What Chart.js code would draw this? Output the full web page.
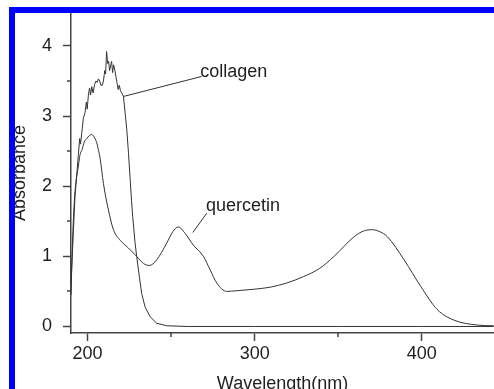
<!DOCTYPE html>
<html>
<head>
<meta charset="utf-8">
<title>Absorbance spectra</title>
<script src="https://cdn.jsdelivr.net/npm/chart.js@4.4.1/dist/chart.umd.min.js"></script>
<style>
  html, body { margin: 0; padding: 0; background: #fff; }
  #wrap { position: relative; width: 494px; height: 389px; overflow: hidden; }
  #wrap canvas { position: absolute; left: 0; top: 0; }
  /* blue frame of the original figure (only top and left edges are in view) */
  #frame {
    position: absolute; left: 9px; top: 7px; right: -20px; bottom: -20px;
    border-top: 6px solid #0000ff; border-left: 6px solid #0000ff;
    pointer-events: none;
  }
</style>
</head>
<body>
<div id="wrap">
  <canvas id="spectraChart" width="494" height="389"></canvas>
  <div id="frame"></div>
</div>
<script>
/* ---------------- Data ---------------- */
const collagenWavelength = [
  190, 190.5, 191.5, 192.5, 193.5, 194.5, 195.3, 195.8, 196.5, 197.5,
  198.5, 199.3, 199.8, 200.5, 201.2, 201.8, 202.5, 203.3, 204.2, 205,
  205.8, 206.5, 207.3, 208, 208.8, 209.5, 210.3, 210.8, 211.4, 212,
  212.6, 213.2, 213.8, 214.4, 215, 215.6, 216.3, 217, 217.6, 218.3,
  219, 219.7, 220.5, 221.5, 222.5, 223.5, 224.5, 225.5, 226.3, 227,
  228.4, 229.4, 231, 232.4, 234.4, 237.4, 241.4, 247.4, 260, 300,
  350, 400, 443
];
const collagenAbs = [
  0.45, 0.8, 1.35, 1.85, 2.15, 2.45, 2.68, 2.6, 2.75, 2.97,
  3.05, 3.2, 3.1, 3.3, 3.4, 3.3, 3.42, 3.33, 3.45, 3.5,
  3.48, 3.53, 3.5, 3.44, 3.44, 3.5, 3.65, 3.6, 3.92, 3.75,
  3.78, 3.65, 3.72, 3.78, 3.62, 3.73, 3.66, 3.56, 3.48, 3.38,
  3.44, 3.36, 3.33, 3.28, 3.04, 2.8, 2.47, 2.1, 1.8, 1.57,
  1.2, 1.0, 0.71, 0.47, 0.28, 0.14, 0.045, 0.01, 0.0, 0.0,
  0.0, 0.0, 0.0
];

const quercetinWavelength = [
  190, 191, 192, 193, 194.3, 195.5, 196.7, 198, 199.5, 201,
  202.3, 203.5, 204.5, 205.5, 206.5, 207.5, 209.5, 212.5, 215.5, 219.5,
  224.4, 229.4, 233.4, 237, 241.4, 247.4, 251, 254.3, 258.3, 263.3,
  269.3, 273.3, 277.3, 283.3, 289.3, 299.2, 309.2, 319.2, 329.1, 339,
  347.5, 359.5, 365, 370.4, 375, 379.4, 389.4, 399.4, 409.3, 419.3,
  433.3, 443
];
const quercetinAbs = [
  0.45, 1.2, 1.75, 2.05, 2.25, 2.45, 2.52, 2.63, 2.68, 2.72,
  2.74, 2.72, 2.68, 2.62, 2.52, 2.4, 2.04, 1.66, 1.38, 1.23,
  1.12, 1.0, 0.9, 0.87, 0.95, 1.19, 1.35, 1.42, 1.33, 1.16,
  1.0, 0.81, 0.62, 0.5, 0.51, 0.53, 0.56, 0.62, 0.71, 0.83,
  1.0, 1.28, 1.36, 1.38, 1.35, 1.28, 0.95, 0.57, 0.24, 0.09,
  0.02, 0.01
];

const xTickValues = [200, 250, 300, 350, 400];
const xTickLabels = ["200", "", "300", "", "400"];
const yTickValues = [0, 0.5, 1, 1.5, 2, 2.5, 3, 3.5, 4];
const yTickLabels = ["0", "", "1", "", "2", "", "3", "", "4"];

/* curve labels with their leader lines, in data units */
const curveLabels = [
  { text: "collagen",  from: [221.5, 3.28], to: [268.3, 3.565], at: [267.4, 3.555] },
  { text: "quercetin", from: [263, 1.34],   to: [271.3, 1.615], at: [270.9, 1.64] }
];

/* ---------------- Styling ---------------- */
const FONT = '"Liberation Sans", Arial, sans-serif';
const axisColor = "#444";
const textColor = "#1e1e1e";
const lineColor = "#333";

function toPoints(xs, ys) {
  return xs.map((x, i) => ({ x: x, y: ys[i] }));
}

/* minor ticks (shorter), leader lines and curve labels */
const extrasPlugin = {
  id: "extras",
  afterDraw(chart) {
    const { ctx, chartArea, scales: { x, y } } = chart;
    ctx.save();
    ctx.strokeStyle = axisColor;
    ctx.lineWidth = 1.5;
    ctx.beginPath();
    xTickValues.forEach((v, i) => {
      if (xTickLabels[i]) return;
      const px = Math.round(x.getPixelForValue(v));
      ctx.moveTo(px, chartArea.bottom);
      ctx.lineTo(px, chartArea.bottom + 4);
    });
    yTickValues.forEach((v, i) => {
      if (yTickLabels[i]) return;
      const py = Math.round(y.getPixelForValue(v));
      ctx.moveTo(chartArea.left, py);
      ctx.lineTo(chartArea.left - 4, py);
    });
    ctx.stroke();

    ctx.strokeStyle = lineColor;
    ctx.lineWidth = 1;
    ctx.fillStyle = textColor;
    ctx.font = "18px " + FONT;
    ctx.textBaseline = "alphabetic";
    ctx.textAlign = "left";
    curveLabels.forEach((lab) => {
      ctx.beginPath();
      ctx.moveTo(x.getPixelForValue(lab.from[0]), y.getPixelForValue(lab.from[1]));
      ctx.lineTo(x.getPixelForValue(lab.to[0]), y.getPixelForValue(lab.to[1]));
      ctx.stroke();
      ctx.fillText(lab.text, x.getPixelForValue(lab.at[0]), y.getPixelForValue(lab.at[1]));
    });
    ctx.restore();
  }
};

function renderSpectra() {
  const ctx = document.getElementById("spectraChart");
  if (!ctx || typeof Chart === "undefined") return;

  new Chart(ctx, {
    type: "line",
    data: {
      datasets: [
        {
          label: "collagen",
          data: toPoints(collagenWavelength, collagenAbs),
          borderColor: lineColor,
          borderWidth: 1,
          pointRadius: 0,
          tension: 0,
          fill: false
        },
        {
          label: "quercetin",
          data: toPoints(quercetinWavelength, quercetinAbs),
          borderColor: lineColor,
          borderWidth: 1,
          pointRadius: 0,
          cubicInterpolationMode: "monotone",
          fill: false
        }
      ]
    },
    options: {
      responsive: false,
      animation: false,
      devicePixelRatio: 1,
      layout: { padding: { top: 13, left: 0, right: 0, bottom: 0 } },
      plugins: { legend: { display: false }, tooltip: { enabled: false } },
      scales: {
        x: {
          type: "linear",
          min: 190.1,
          max: 443.2,
          afterBuildTicks: (scale) => { scale.ticks = xTickValues.map((v) => ({ value: v })); },
          afterFit: (scale) => { scale.height = 56; scale.paddingLeft = 0; scale.paddingRight = 0; },
          border: { display: true, color: axisColor, width: 1.5 },
          grid: {
            drawOnChartArea: false,
            drawTicks: true,
            tickLength: 8,
            tickWidth: 1.5,
            tickColor: (c) => (xTickLabels[xTickValues.indexOf(c.tick && c.tick.value)] ? axisColor : "rgba(0,0,0,0)")
          },
          ticks: {
            padding: 2,
            maxRotation: 0,
            color: textColor,
            font: { family: FONT, size: 18 },
            callback: (value) => xTickLabels[xTickValues.indexOf(value)] || ""
          },
          title: {
            display: true,
            text: "Wavelength(nm)",
            color: textColor,
            font: { family: FONT, size: 18 },
            padding: { top: 0, bottom: -6 }
          }
        },
        y: {
          type: "linear",
          min: -0.093,
          max: 4.47,
          afterBuildTicks: (scale) => { scale.ticks = yTickValues.map((v) => ({ value: v })); },
          afterFit: (scale) => { scale.width = 71; scale.paddingTop = 0; scale.paddingBottom = 0; },
          border: { display: true, color: axisColor, width: 1.5 },
          grid: {
            drawOnChartArea: false,
            drawTicks: true,
            tickLength: 8,
            tickWidth: 1.5,
            tickColor: (c) => (yTickLabels[yTickValues.indexOf(c.tick && c.tick.value)] ? axisColor : "rgba(0,0,0,0)")
          },
          ticks: {
            padding: 11,
            color: textColor,
            font: { family: FONT, size: 18 },
            callback: (value) => yTickLabels[yTickValues.indexOf(value)] || ""
          },
          title: {
            display: true,
            text: "Absorbance",
            color: textColor,
            font: { family: FONT, size: 18 },
            padding: { top: 9, bottom: 0 }
          }
        }
      }
    },
    plugins: [extrasPlugin]
  });
}

document.addEventListener("DOMContentLoaded", renderSpectra);
</script>
</body>
</html>
